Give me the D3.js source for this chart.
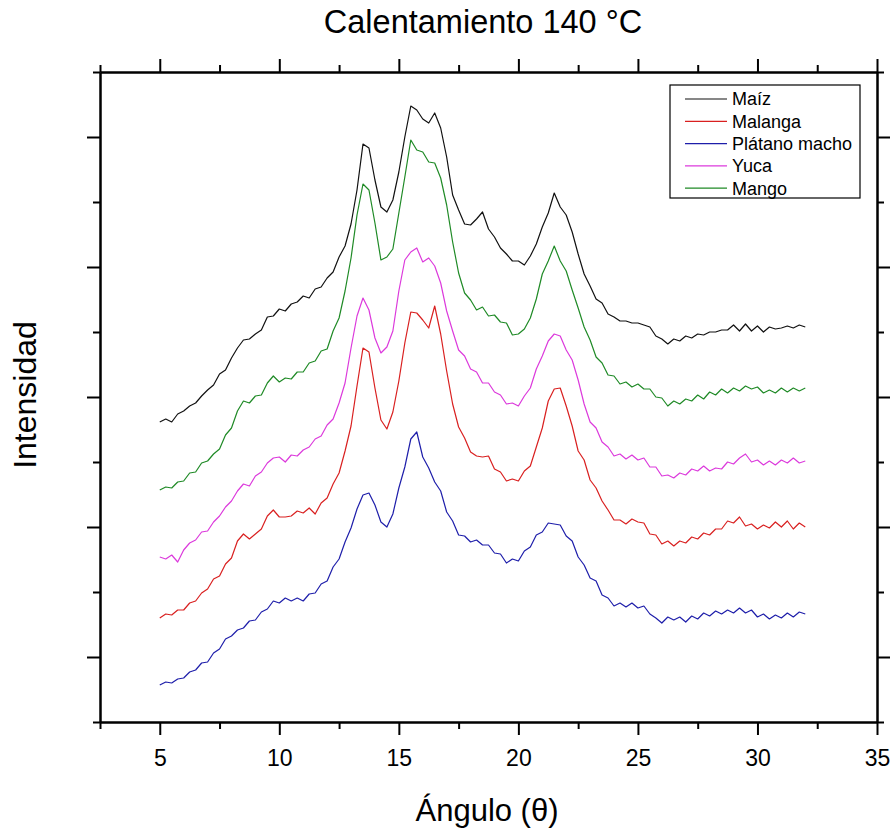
<!DOCTYPE html>
<html>
<head>
<meta charset="utf-8">
<script src="https://cdn.jsdelivr.net/npm/d3@7"></script>
<style>
  body { margin: 0; background: #fff; }
  text { font-family: "Liberation Sans", Arial, sans-serif; fill: #000; }
</style>
</head>
<body>
<div id="chart"></div>
<script>
// angle grid of the patterns (2theta, 0.25 deg step)
var angles = d3.range(0, 109).map(function(k) { return 5 + k * 0.25; });

// intensities (arbitrary units, curves already offset)
var maiz = [300,303,300,308,311,316,319,326,332,337,
  348,352,364,374,382,383,388,392,405,406,
  413,411,418,420,426,424,433,435,444,450,
  465,476,498,532,578,574,542,515,510,522,
  550,585,616,612,603,599,609,594,565,527,
  512,498,497,503,510,493,485,474,468,461,
  461,457,466,478,495,509,529,515,507,490,
  468,448,436,423,419,408,405,401,401,399,
  399,397,395,386,383,378,383,381,386,384,
  388,387,390,390,392,392,397,391,398,391,
  396,390,395,393,394,396,394,397,395];

var malanga = [104,108,107,112,112,119,121,129,133,143,
  146,158,164,181,188,183,188,193,206,212,
  205,205,206,211,209,214,208,219,224,238,
  249,271,296,336,374,370,334,302,293,310,
  341,379,410,409,402,394,416,388,351,318,
  295,284,270,266,265,266,253,250,241,243,
  241,251,256,275,294,321,333,334,316,296,
  271,262,242,234,221,212,202,202,198,203,
  200,199,188,187,178,181,176,181,179,185,
  183,189,187,193,193,201,199,205,196,198,
  193,197,194,200,195,201,193,199,195];

var platano = [37,40,39,43,44,50,52,59,60,69,
  73,83,86,92,94,101,102,110,113,121,
  119,124,121,124,121,128,129,138,141,155,
  163,180,194,213,227,229,217,200,195,208,
  234,255,283,290,265,254,240,231,210,201,
  187,186,180,182,177,177,169,168,159,163,
  161,171,175,187,190,199,198,197,186,181,
  165,157,144,141,127,124,116,119,115,119,
  114,116,108,104,99,105,102,105,100,106,
  103,109,106,111,108,112,109,114,109,112,
  105,108,103,107,104,109,105,110,108];

var yuca = [165,163,167,160,172,179,182,190,191,200,
  206,215,221,231,238,236,246,250,259,264,
  265,260,267,266,272,275,283,286,297,303,
  319,339,374,406,424,412,384,369,375,391,
  431,462,470,474,460,464,456,439,411,391,
  372,366,353,350,339,339,330,327,318,319,
  316,326,334,353,366,381,388,386,372,362,
  342,318,300,294,280,275,266,268,263,267,
  262,264,255,255,246,247,244,249,247,253,
  251,256,251,254,253,260,258,264,268,260,
  262,257,261,257,262,259,264,259,261];

var mango = [232,235,234,240,241,249,250,259,261,268,
  273,287,294,311,321,319,326,327,339,346,
  340,344,343,350,350,359,361,371,373,391,
  404,431,464,507,538,532,499,462,465,473,
  509,545,582,572,570,560,559,544,517,480,
  449,429,422,412,415,406,407,400,399,387,
  388,393,404,423,448,461,476,461,451,432,
  414,395,382,365,359,347,346,338,340,335,
  338,333,333,325,324,316,321,318,323,321,
  327,323,330,327,333,329,334,331,336,333,
  335,329,332,329,334,330,334,331,334];

var names = ["Maíz", "Malanga", "Plátano macho", "Yuca", "Mango"];
var colors = ["#111111", "#d92020", "#1e1eaa", "#dc3adc", "#1f8a26"];
var series = [maiz, malanga, platano, yuca, mango];

var xMajor = [5, 10, 15, 20, 25, 30, 35];
var xMinor = [2.5, 7.5, 12.5, 17.5, 22.5, 27.5, 32.5];
var yMajor = [65, 195, 325, 455, 585];
var yMinor = [0, 130, 260, 390, 520, 650];

var width = 896, height = 835;
var margin = {top: 72, right: 19, bottom: 113, left: 100};

var svg = d3.select("#chart").append("svg")
    .attr("width", width)
    .attr("height", height);

var x = d3.scaleLinear().domain([2.5, 35]).range([margin.left, width - margin.right]);
var y = d3.scaleLinear().domain([0, 650]).range([height - margin.bottom, margin.top]);

//Curves
var line = d3.line()
    .x(function(d, i) { return x(angles[i]); })
    .y(function(d) { return y(d); });

svg.append("g")
    .attr("fill", "none")
    .attr("stroke-width", 1.2)
    .attr("stroke-linejoin", "round")
    .selectAll("path")
    .data(series)
    .join("path")
    .attr("stroke", function(d, i) { return colors[i]; })
    .attr("d", line);

//Axes, ticks outward on all four sides
function styleAxis(g) {
    g.select(".domain").attr("stroke-width", 2);
    g.selectAll(".tick line").attr("stroke-width", 2);
}

var plotBottom = height - margin.bottom, plotTop = margin.top;

svg.append("g")
    .attr("transform", "translate(0," + plotBottom + ")")
    .call(d3.axisBottom(x).tickValues(xMajor).tickSize(13).tickSizeOuter(0).tickPadding(15))
    .call(styleAxis)
    .selectAll("text")
    .style("font-size", "23px")
    .style("font-family", "'Liberation Sans', Arial, sans-serif");

svg.append("g")
    .attr("transform", "translate(0," + plotBottom + ")")
    .call(d3.axisBottom(x).tickValues(xMinor).tickSize(7).tickSizeOuter(0).tickFormat(""))
    .call(styleAxis);

svg.append("g")
    .attr("transform", "translate(0," + plotTop + ")")
    .call(d3.axisTop(x).tickValues(xMajor).tickSize(13).tickSizeOuter(0).tickFormat(""))
    .call(styleAxis);

svg.append("g")
    .attr("transform", "translate(0," + plotTop + ")")
    .call(d3.axisTop(x).tickValues(xMinor).tickSize(7).tickSizeOuter(0).tickFormat(""))
    .call(styleAxis);

svg.append("g")
    .attr("transform", "translate(" + margin.left + ",0)")
    .call(d3.axisLeft(y).tickValues(yMajor).tickSize(13).tickSizeOuter(0).tickFormat(""))
    .call(styleAxis);

svg.append("g")
    .attr("transform", "translate(" + margin.left + ",0)")
    .call(d3.axisLeft(y).tickValues(yMinor).tickSize(7).tickSizeOuter(0).tickFormat(""))
    .call(styleAxis);

svg.append("g")
    .attr("transform", "translate(" + (width - margin.right) + ",0)")
    .call(d3.axisRight(y).tickValues(yMajor).tickSize(13).tickSizeOuter(0).tickFormat(""))
    .call(styleAxis);

svg.append("g")
    .attr("transform", "translate(" + (width - margin.right) + ",0)")
    .call(d3.axisRight(y).tickValues(yMinor).tickSize(7).tickSizeOuter(0).tickFormat(""))
    .call(styleAxis);

//Titles
svg.append("text")
    .attr("x", 483)
    .attr("y", 33)
    .attr("text-anchor", "middle")
    .style("font-size", "32.5px")
    .text("Calentamiento 140 °C");

svg.append("text")
    .attr("x", 487)
    .attr("y", 821)
    .attr("text-anchor", "middle")
    .style("font-size", "31px")
    .text("Ángulo (θ)");

svg.append("text")
    .attr("transform", "translate(36,395) rotate(-90)")
    .attr("text-anchor", "middle")
    .style("font-size", "32px")
    .text("Intensidad");

//Legend
var legend = svg.append("g").attr("transform", "translate(670,85)");

legend.append("rect")
    .attr("width", 190)
    .attr("height", 113)
    .attr("fill", "#fff")
    .attr("stroke", "#000")
    .attr("stroke-width", 1.2);

var rows = legend.selectAll("g.row")
    .data(names)
    .join("g")
    .attr("class", "row")
    .attr("transform", function(d, i) { return "translate(0," + (14 + i * 22.3) + ")"; });

rows.append("line")
    .attr("x1", 15).attr("x2", 57)
    .attr("stroke", function(d, i) { return colors[i]; })
    .attr("stroke-width", 1.2);

rows.append("text")
    .attr("x", 62)
    .attr("dy", "0.35em")
    .style("font-size", "18px")
    .text(function(d) { return d; });
</script>
</body>
</html>
